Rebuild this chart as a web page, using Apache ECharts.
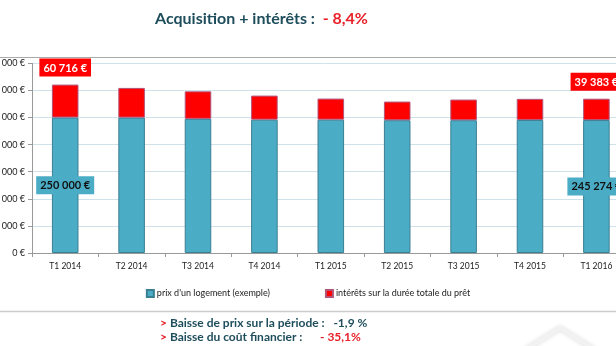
<!DOCTYPE html>
<html><head><meta charset="utf-8">
<script src="https://cdn.jsdelivr.net/npm/echarts@6/dist/echarts.min.js"></script>
<style>html,body{margin:0;padding:0;background:#fff;overflow:hidden}#c{width:616px;height:346px}</style>
</head><body><div id="c"></div>
<script>
const categories = ['T1 2014','T2 2014','T3 2014','T4 2014','T1 2015','T2 2015','T3 2015','T4 2015','T1 2016'];
const prix = [250000, 249800, 247500, 246000, 246000, 245000, 245000, 245500, 245274];
const interets = [60716, 54800, 50800, 44400, 38900, 34400, 38100, 38900, 39383];
const yTicks = [0, 50000, 100000, 150000, 200000, 250000, 300000, 350000];
const seriesNames = ["prix d'un logement (exemple)", "intérêts sur la durée totale du prêt"];

function fmt(v){ return String(Math.round(v)).replace(/\B(?=(\d{3})+(?!\d))/g,' ') + ' €'; }
const last = categories.length - 1;
const font = 'Lato, "Open Sans", sans-serif';

const prixData = prix.map((v,i)=>{
  const d = {value:v};
  if (i===0 || i===last) d.label = {show:true, position:'inside', formatter: p=>fmt(p.value),
    backgroundColor:'#4bacc6', color:'#111', fontWeight:'bold', fontSize:11, fontFamily:font, padding:[4,4,3,4]};
  return d;
});
const intData = interets.map((v,i)=>{
  const d = {value:v};
  if (i===0 || i===last) d.label = {show:true, position:'top', distance:8, formatter: p=>fmt(p.value),
    backgroundColor:'#ff0000', color:'#fff', fontWeight:'bold', fontSize:11, fontFamily:font, padding:[4,4,3,4]};
  return d;
});

const chart = echarts.init(document.getElementById('c'));
chart.setOption({
  animation:false,
  textStyle:{fontFamily:font},
  title:{
    text:'{a|Acquisition + intérêts :  }{b|- 8,4%}',
    left:150, top:6,
    textStyle:{rich:{
      a:{fontSize:16, fontWeight:'bold', color:'#1e4d5c', fontFamily:font},
      b:{fontSize:16, fontWeight:'bold', color:'#e8212a', fontFamily:font}
    }}
  },
  legend:{
    top:284, left:'center', itemWidth:7, itemHeight:7, icon:'rect', itemGap:55,
    textStyle:{fontSize:9, color:'#222', fontFamily:font, padding:[0,0,0,-2]},
    data:seriesNames
  },
  grid:{left:32, right:-13.6, top:63.3, bottom:93, containLabel:false, outerBoundsMode:'none'},
  xAxis:{
    type:'category', data:categories,
    axisLine:{lineStyle:{color:'#999'}},
    axisTick:{show:true, length:4, lineStyle:{color:'#999'}},
    axisLabel:{fontSize:8.5, color:'#222', margin:9, fontFamily:font, hideOverlap:false}
  },
  yAxis:{
    type:'value', min:0, max:350000, interval:50000,
    axisLine:{show:true, lineStyle:{color:'#999'}},
    axisTick:{show:true, length:4, lineStyle:{color:'#999'}},
    splitLine:{lineStyle:{color:'#cfe2ea'}},
    axisLabel:{fontSize:9, color:'#222', margin:7, fontFamily:font, formatter:v=>fmt(v), hideOverlap:false}
  },
  series:[
    {name:seriesNames[0], type:'bar', stack:'t', barWidth:'40%', data:prixData,
     itemStyle:{color:'#4bacc6', borderColor:'#3b7f93', borderWidth:1}},
    {name:seriesNames[1], type:'bar', stack:'t', barWidth:'40%', data:intData,
     itemStyle:{color:'#ff0000', borderColor:'#b2557a', borderWidth:1}}
  ],
  graphic:[
    {type:'line', shape:{x1:0,y1:57.5,x2:616,y2:57.5}, style:{stroke:'#aaa', lineWidth:1}},
    {type:'line', shape:{x1:0,y1:311.5,x2:616,y2:311.5}, style:{stroke:'#ccc', lineWidth:1.5}},
    {type:'polyline', shape:{points:[[525,350],[560,328],[595,350]]},
     style:{stroke:'#f2f2f2', lineWidth:4, fill:null, shadowBlur:4, shadowColor:'rgba(0,0,0,0.15)'}},
    {type:'text', left:160, top:317, style:{
      text:'{r|> }{a|Baisse de prix sur la période :   -1,9 %}',
      rich:{r:{fontSize:12, fontWeight:'bold', fill:'#e8212a', fontFamily:font},
            a:{fontSize:12, fontWeight:'bold', fill:'#1e4d5c', fontFamily:font}}}},
    {type:'text', left:160, top:331, style:{
      text:'{r|> }{a|Baisse du coût financier :}',
      rich:{r:{fontSize:12, fontWeight:'bold', fill:'#e8212a', fontFamily:font},
            a:{fontSize:12, fontWeight:'bold', fill:'#1e4d5c', fontFamily:font}}}},
    {type:'text', left:320, top:331, style:{text:'- 35,1%', fontSize:12, fontWeight:'bold', fill:'#e8212a', fontFamily:font}}
  ]
});
</script></body></html>
